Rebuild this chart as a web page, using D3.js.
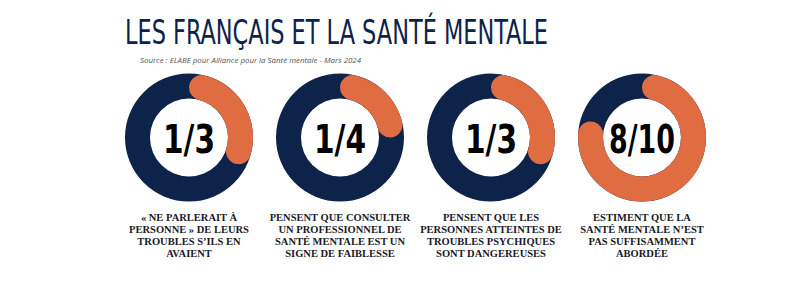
<!DOCTYPE html>
<html><head><meta charset="utf-8">
<script src="https://cdn.jsdelivr.net/npm/d3@7"></script>
<style>
html,body{margin:0;padding:0;background:#fff;}
svg{display:block;}
</style></head>
<body>
<div id="chart"></div>
<script>
const title = "LES FRANÇAIS ET LA SANTÉ MENTALE";
const source = "Source : ELABE pour Alliance pour la Santé mentale - Mars 2024";
const numerators = [1, 1, 1, 8];
const denominators = [3, 4, 3, 10];
const fractionLabels = ["1/3", "1/4", "1/3", "8/10"];
const captions = [
  ["« NE PARLERAIT À", "PERSONNE » DE LEURS", "TROUBLES S’ILS EN", "AVAIENT"],
  ["PENSENT QUE CONSULTER", "UN PROFESSIONNEL DE", "SANTÉ MENTALE EST UN", "SIGNE DE FAIBLESSE"],
  ["PENSENT QUE LES", "PERSONNES ATTEINTES DE", "TROUBLES PSYCHIQUES", "SONT DANGEREUSES"],
  ["ESTIMENT QUE LA", "SANTÉ MENTALE N’EST", "PAS SUFFISAMMENT", "ABORDÉE"]
];

const W = 805, H = 298;
const navy = "#0d2349", orange = "#e06c42";
const svg = d3.select("#chart").append("svg").attr("width", W).attr("height", H);

svg.append("text").attr("x", 125).attr("y", 44)
  .attr("font-family", "'Liberation Sans Narrow','DejaVu Sans Condensed',sans-serif")
  .attr("font-size", 34).attr("fill", navy)
  .attr("textLength", 423).attr("lengthAdjust", "spacingAndGlyphs")
  .text(title);

svg.append("text").attr("x", 140).attr("y", 63)
  .attr("font-family", "'Open Sans','Liberation Sans',sans-serif")
  .attr("font-style", "italic").attr("font-size", 7.6).attr("fill", "#555")
  .attr("textLength", 221).attr("lengthAdjust", "spacingAndGlyphs")
  .text(source);

const idx = d3.range(numerators.length);
const x = d3.scalePoint().domain(idx).range([189, 642]);
const angle = d3.scaleLinear().domain([0, 1]).range([0, 2 * Math.PI]);
const cy = 137.5, rOut = 64, rIn = 39;
const arc = d3.arc().innerRadius(rIn).outerRadius(rOut);
const arcRound = d3.arc().innerRadius(rIn).outerRadius(rOut).cornerRadius((rOut - rIn) / 2);

const g = svg.selectAll("g.donut").data(idx).join("g")
  .attr("class", "donut")
  .attr("transform", i => `translate(${x(i)},${cy})`);

g.append("path").attr("fill", navy)
  .attr("d", () => arc({startAngle: 0, endAngle: 2 * Math.PI}));
g.append("path").attr("fill", orange)
  .attr("d", i => arcRound({startAngle: 0, endAngle: angle(numerators[i] / denominators[i])}));

const numWidths = {"1/3": 52, "1/4": 52, "8/10": 66};
g.append("text").attr("text-anchor", "middle").attr("y", 15.5)
  .attr("font-family", "'Liberation Sans Narrow','DejaVu Sans Condensed',sans-serif")
  .attr("font-weight", "bold").attr("font-size", 39).attr("fill", "#000")
  .attr("textLength", i => numWidths[fractionLabels[i]]).attr("lengthAdjust", "spacingAndGlyphs")
  .text(i => fractionLabels[i]);

const cap = svg.selectAll("text.cap").data(idx).join("text")
  .attr("class", "cap").attr("text-anchor", "middle")
  .attr("font-family", "'Liberation Serif','DejaVu Serif',serif")
  .attr("font-weight", "bold").attr("font-size", 10.5).attr("fill", "#1a1a28");
cap.selectAll("tspan").data(i => captions[i].map(t => ({t, i}))).join("tspan")
  .attr("x", d => x(d.i)).attr("y", (d, j) => 220.5 + j * 12.3)
  .text(d => d.t);
</script>
</body></html>
